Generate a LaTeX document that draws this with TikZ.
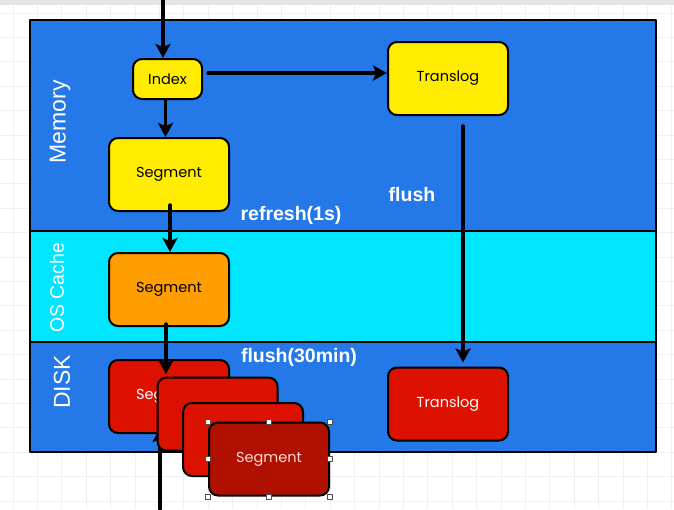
\documentclass[tikz,border=0pt]{standalone}
\usepackage{fontspec}
\setmainfont{Liberation Sans}
\newfontfamily\boxfont{Poppins}
\usetikzlibrary{arrows.meta}
\definecolor{memblue}{RGB}{36,120,232}
\definecolor{cachecyan}{RGB}{0,230,255}
\definecolor{idxyellow}{RGB}{255,236,0}
\definecolor{cacheorange}{RGB}{255,158,0}
\definecolor{diskred}{RGB}{221,17,0}
\definecolor{deepred}{RGB}{176,16,0}
\begin{document}
\begin{tikzpicture}[x=1pt,y=-1pt,line cap=round,line join=round,
  >={Stealth[length=14pt,width=15pt,inset=3pt]},
  gridline/.style={draw=black!6,line width=0.8pt},
  region/.style={draw=black,line width=2.5pt},
  box/.style={draw=black,line width=2pt,rounded corners=9pt,minimum width=120pt,minimum height=73pt,inner sep=0pt,font=\boxfont\fontsize{14.5}{16}\selectfont},
  flow/.style={->,line width=3.5pt},
  lane/.style={text=white,rotate=90,font=\fontsize{23}{26}\selectfont},
  note/.style={text=white,font=\bfseries\fontsize{19.5}{22}\selectfont},
  handle/.style={draw=black!70,fill=white,line width=0.6pt}]
\useasboundingbox (0,0) rectangle (674,509);
\fill[white] (0,0) rectangle (674,509);
\foreach \gx in {13,37.4,...,674} \draw[gridline] (\gx,5) -- (\gx,509);
\foreach \gy in {13,37.4,...,509} \draw[gridline] (0,\gy) -- (674,\gy);
\fill[black!10] (0,0) rectangle (674,5);
\filldraw[region,fill=memblue] (30,20) rectangle (656,231);
\filldraw[region,fill=cachecyan] (30,231) rectangle (656,342);
\filldraw[region,fill=memblue] (30,342) rectangle (656,452);
\node[lane] (memlbl) at (60,122) {Memory};
\node[lane,font=\fontsize{19.5}{22}\selectfont] (cachelbl) at (57,288) {OS Cache};
\node[lane] (disklbl) at (62,382) {DISK};
\node[note] (refresh) at (291,215) {refresh(1s)};
\node[note] (flushlbl) at (412,195) {flush};
\node[note] (flushdisk) at (299,357) {flush(30min)};
\node[box,fill=idxyellow,minimum width=69pt,minimum height=40pt] (index) at (167.5,79) {Index};
\node[box,fill=idxyellow] (memseg) at (169,174.5) {Segment};
\node[box,fill=idxyellow] (memlog) at (448,78.5) {Translog};
\node[box,fill=cacheorange] (cacheseg) at (169,289.5) {Segment};
\node[box,fill=diskred,text=white] (seg1) at (169,396.5) {Segment};
\coordinate (entry) at (163,0);
\coordinate (diskin) at (166,374);
\coordinate (exit) at (160,509);
\coordinate (backin) at (160,428);
\draw[flow] (entry) -- (entry |- index.north);
\draw[flow] ([xshift=5pt,yshift=6pt]index.east) -- ([yshift=6pt]index.east -| memlog.west);
\draw[flow] ([xshift=-2pt]index.south) -- ([xshift=-2pt]index.south |- memseg.north);
\draw[flow] ([xshift=1pt,yshift=7pt]memseg.south) -- ([xshift=1pt]memseg.south |- cacheseg.north);
\draw[flow] ([yshift=3pt]cacheseg.south -| diskin) -- (diskin);
\draw[flow] (exit) -- (backin);
\node[box,fill=diskred,text=white] (seg2) at (217.5,414) {Segment};
\node[box,fill=diskred,text=white] (seg3) at (243,439.5) {Segment};
\node[box,fill=deepred,text=red!15] (seg4) at (269,459) {Segment};
\foreach \a in {north west,north,north east,east,south east,south,south west,west}
  \draw[handle] ([shift={(-2.5pt,-2.5pt)}]seg4.\a) rectangle +(5pt,5pt);
\node[box,fill=diskred,text=white] (disklog) at (448,404) {Translog};
\draw[flow,shorten >=4pt] ([xshift=15pt,yshift=-10pt]memlog.south) -- ([xshift=15pt]disklog.north);
\end{tikzpicture}
\end{document}
